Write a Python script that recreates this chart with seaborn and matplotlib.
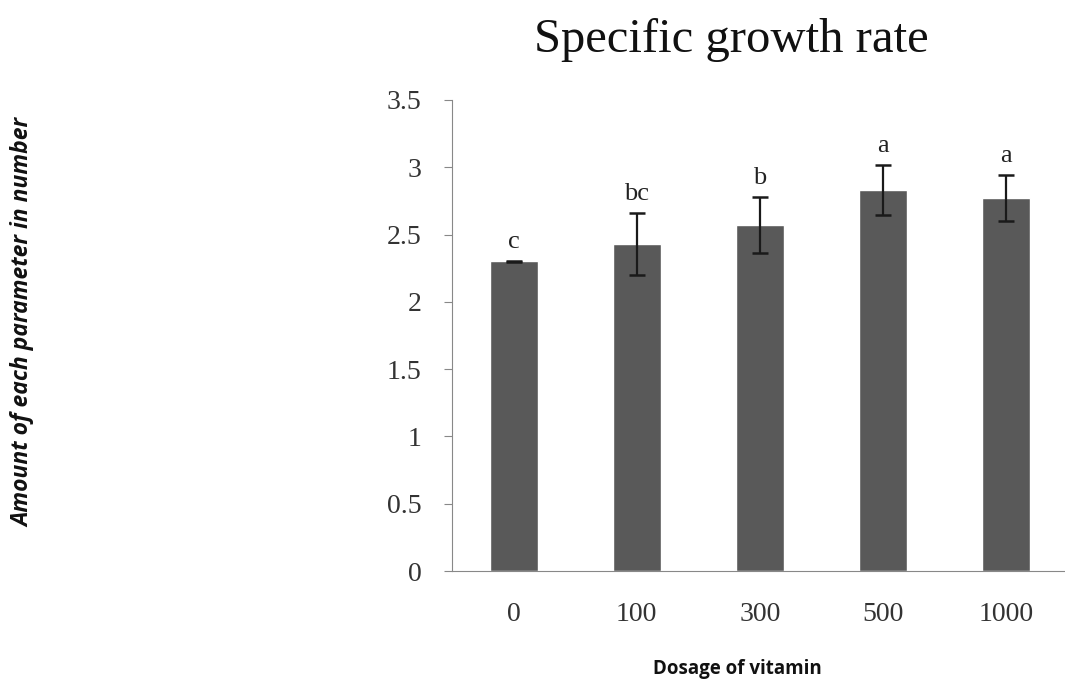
import matplotlib
matplotlib.use("Agg")
import matplotlib.pyplot as plt
import numpy as np
import pandas as pd
import seaborn as sns

# data
dosages = ["0", "100", "300", "500", "1000"]
growth_rate = [2.30, 2.43, 2.57, 2.83, 2.77]
std_err = [0.005, 0.23, 0.21, 0.185, 0.17]
letters = ["c", "bc", "b", "a", "a"]
y_ticks = [0, 0.5, 1, 1.5, 2, 2.5, 3, 3.5]
y_tick_labels = ["0", "0.5", "1", "1.5", "2", "2.5", "3", "3.5"]

df = pd.DataFrame({"dosage": dosages, "rate": growth_rate})

sns.set_style("white")
serif = ["Liberation Serif", "DejaVu Serif"]
sans = ["Open Sans", "DejaVu Sans"]

fig = plt.figure(figsize=(10.65, 6.84), dpi=100)
ax = fig.add_axes([0.4244, 0.165, 0.578, 0.689])

sns.barplot(data=df, x="dosage", y="rate", order=dosages, color="#595959",
            saturation=1, width=0.39, errorbar=None, ax=ax)
ax.errorbar(range(len(dosages)), growth_rate, yerr=std_err, fmt="none",
            ecolor="#1a1a1a", elinewidth=1.6, capsize=6, capthick=1.8)

for i, (v, e, t) in enumerate(zip(growth_rate, std_err, letters)):
    ax.text(i, v + e + 0.06, t, ha="center", va="bottom",
            family=serif, fontsize=19, color="#222222")

ax.set_xlim(-0.5, 4.5)
ax.set_ylim(0, 3.5)
ax.set_yticks(y_ticks)
ax.set_yticklabels(y_tick_labels, family=serif, fontsize=20, color="#333333")
ax.set_xticks(range(len(dosages)))
ax.set_xticklabels(dosages, family=serif, fontsize=20, color="#333333")

# Excel style: ticks between categories
ax.set_xticks(np.arange(-0.5, 5, 1.0), minor=True)
ax.tick_params(axis="x", which="major", length=0, pad=22)
ax.tick_params(axis="x", which="minor", length=8, width=0.8, color="#888888", direction="out")
ax.tick_params(axis="y", length=6, width=0.8, color="#888888", direction="out", left=True, pad=16)

sns.despine(ax=ax, top=True, right=True)
for s in ["left", "bottom"]:
    ax.spines[s].set_color("#888888")
    ax.spines[s].set_linewidth(0.8)

fig.text(731 / 1065, 1 - 40 / 684, "Specific growth rate", family=serif, fontsize=35,
         color="#111111", ha="center", va="center")
ax.set_xlabel("Dosage of vitamin", fontsize=13.5, fontweight="bold",
              family=sans, color="#111111")
ax.xaxis.set_label_coords((737 - 452) / 615, (571 - 659) / 471)
ax.set_ylabel("Amount of each parameter in number", fontsize=16.5, fontweight="bold",
              fontstyle="italic", family=sans, color="#111111")
ax.yaxis.set_label_coords((36 - 452) / 615, (571 - 322) / 471)

fig.savefig("out.png", dpi=100)
